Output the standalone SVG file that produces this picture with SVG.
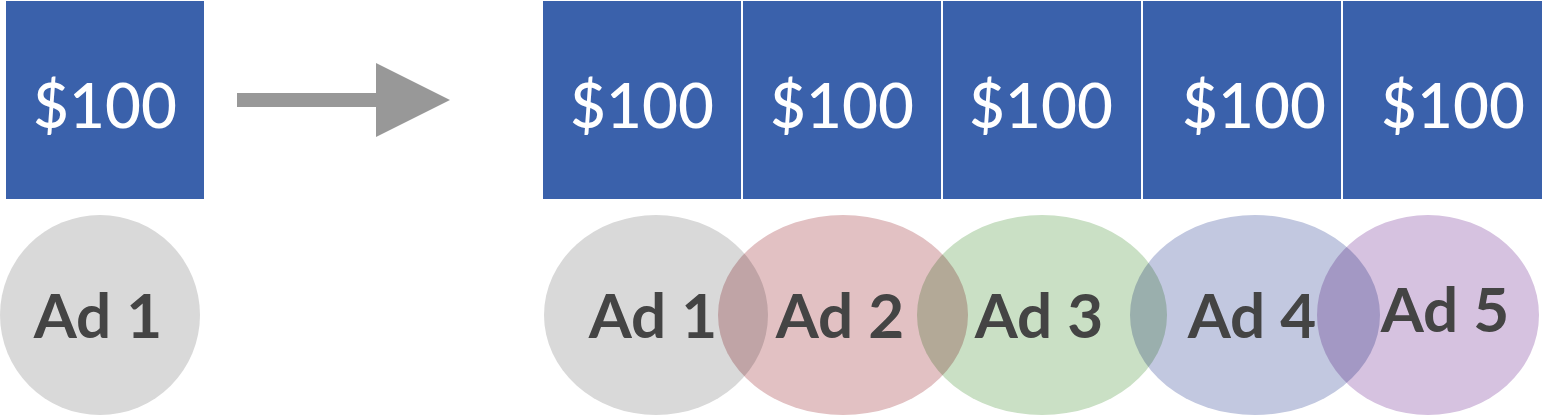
<svg xmlns="http://www.w3.org/2000/svg" width="1542" height="415" viewBox="0 0 1542 415">
<style>
.box{fill:#3a61ab}
.money{font-family:Lato,"Open Sans","Liberation Sans",sans-serif;font-size:62px;fill:#ffffff;text-anchor:middle;font-weight:500}
.ad{font-family:Lato,"Open Sans","Liberation Sans",sans-serif;font-size:62px;font-weight:700;fill:#444444;text-anchor:middle}
.bub{mix-blend-mode:multiply}
</style>
<rect width="1542" height="415" fill="#ffffff"/>
<g id="single-budget"><rect class="box" x="6" y="1" width="198" height="198"/><text class="money" x="105" y="128">$100</text></g>
<g id="connectors"><polygon points="237,93 376,93 376,63 450,100 376,137 376,107 237,107" fill="#989898"/></g>
<g id="budget-1"><rect class="box" x="543" y="1" width="198" height="198"/><text class="money" x="642" y="128">$100</text></g>
<g id="budget-2"><rect class="box" x="743" y="1" width="198" height="198"/><text class="money" x="842" y="128">$100</text></g>
<g id="budget-3"><rect class="box" x="943" y="1" width="198" height="198"/><text class="money" x="1041" y="128">$100</text></g>
<g id="budget-4"><rect class="box" x="1143" y="1" width="198" height="198"/><text class="money" x="1254" y="128">$100</text></g>
<g id="budget-5"><rect class="box" x="1343" y="1" width="199" height="198"/><text class="money" x="1453" y="128">$100</text></g>
<g id="single-ad"><ellipse cx="100" cy="315" rx="100" ry="100" fill="#d9d9d9"/><text class="ad" x="98" y="338">Ad 1</text></g>
<g id="ad-shapes">
<ellipse id="ad1-shape" class="bub" cx="656" cy="315" rx="112" ry="100" fill="#d9d9d9"/>
<ellipse id="ad2-shape" class="bub" cx="843" cy="315" rx="125" ry="100" fill="#e2c1c3"/>
<ellipse id="ad3-shape" class="bub" cx="1042" cy="315" rx="125" ry="100" fill="#cae0c5"/>
<ellipse id="ad4-shape" class="bub" cx="1255" cy="315" rx="125" ry="100" fill="#c2c8e0"/>
<ellipse id="ad5-shape" class="bub" cx="1428" cy="315" rx="111" ry="100" fill="#d6c2e0"/>
</g>
<g id="ad-1"><text class="ad" x="653" y="338">Ad 1</text></g>
<g id="ad-2"><text class="ad" x="840" y="338">Ad 2</text></g>
<g id="ad-3"><text class="ad" x="1039" y="338">Ad 3</text></g>
<g id="ad-4"><text class="ad" x="1252" y="338">Ad 4</text></g>
<g id="ad-5"><text class="ad" x="1445" y="332">Ad 5</text></g>
</svg>
